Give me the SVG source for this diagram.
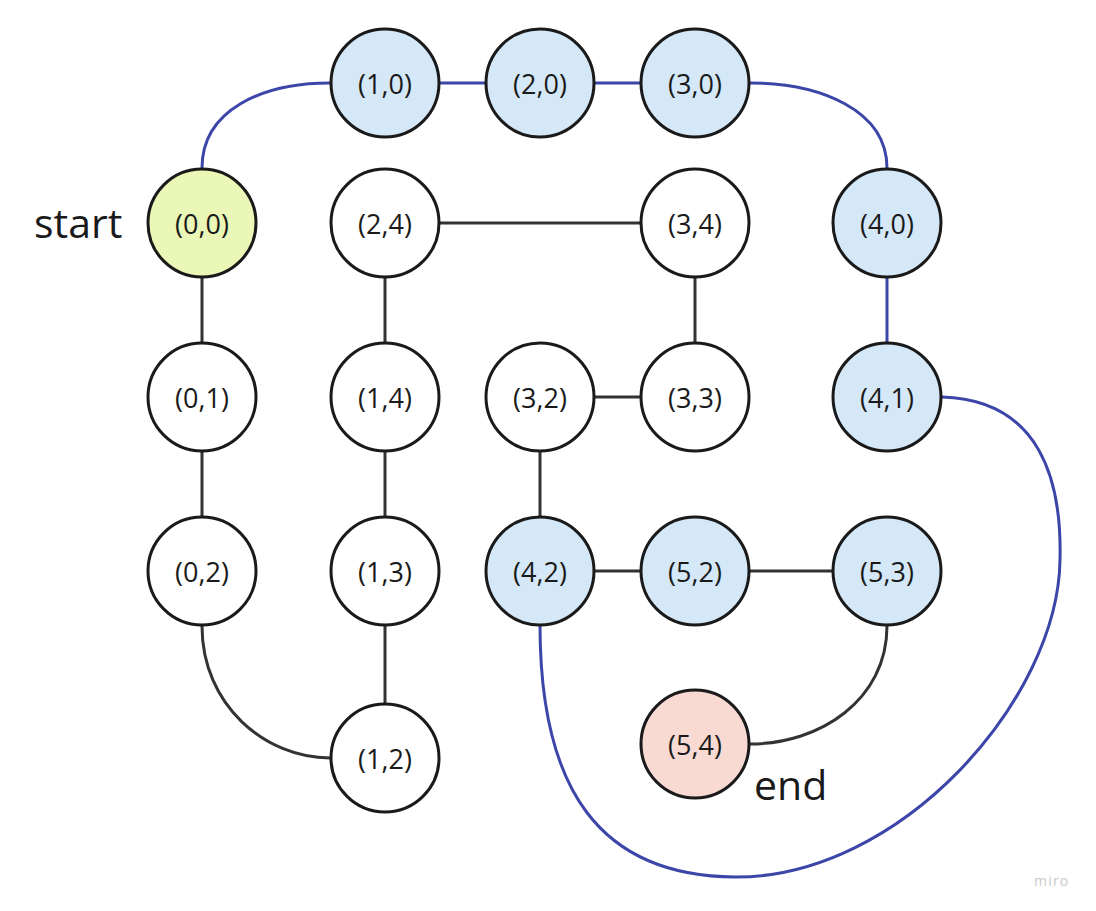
<svg xmlns="http://www.w3.org/2000/svg" width="1096" height="911" viewBox="0 0 1096 911">
  <style>
    .node circle { stroke: #1a1a1a; stroke-width: 3; }
    .plain circle { fill: #ffffff; }
    .path circle { fill: #d5e8f8; }
    .start circle { fill: #eaf7b6; }
    .end circle { fill: #f9dad3; }
    .node text { font-family: "Open Sans", "Liberation Sans", sans-serif; font-size: 27px; fill: #1a1a1a; text-anchor: middle; dominant-baseline: central; }
    .edge { fill: none; stroke: #333333; stroke-width: 3; }
    .route { fill: none; stroke: #3c46a8; stroke-width: 3; }
    .label { font-family: "Open Sans", "Liberation Sans", sans-serif; font-size: 41px; fill: #1a1a1a; }
    .brand { font-family: "Open Sans", "Liberation Sans", sans-serif; font-size: 14px; fill: #c9c9c9; letter-spacing: 1.2px; }
  </style>

  <rect width="1096" height="911" fill="#ffffff"/>

  <g id="connectors">
    <!-- route through the grid -->
    <path class="route" d="M202,168 C202,110 262,83 330,83"/>
    <path class="route" d="M439,83 H486"/>
    <path class="route" d="M595,83 H641"/>
    <path class="route" d="M750,83 C820,83 887,110 887,168"/>
    <path class="route" d="M887,278 V343"/>
    <path class="route" d="M942,397 C1040,400 1062,480 1060,560 C1058,700 900,878 735,877 C600,876 540,790 540,625"/>
    <!-- remaining edges -->
    <path class="edge" d="M202,278 V343"/>
    <path class="edge" d="M202,452 V517"/>
    <path class="edge" d="M202,626 C202,705 265,758 330,758"/>
    <path class="edge" d="M439,223 H641"/>
    <path class="edge" d="M385,278 V343"/>
    <path class="edge" d="M385,452 V517"/>
    <path class="edge" d="M385,626 V703"/>
    <path class="edge" d="M695,278 V343"/>
    <path class="edge" d="M595,397 H641"/>
    <path class="edge" d="M540,452 V516"/>
    <path class="edge" d="M595,571 H641"/>
    <path class="edge" d="M750,571 H832"/>
    <path class="edge" d="M887,626 C887,700 820,744 750,744"/>
  </g>

  <g id="n10" class="node path"><circle cx="385" cy="83" r="54"/><text x="385" y="83">(1,0)</text></g>
  <g id="n20" class="node path"><circle cx="540" cy="83" r="54"/><text x="540" y="83">(2,0)</text></g>
  <g id="n30" class="node path"><circle cx="695" cy="83" r="54"/><text x="695" y="83">(3,0)</text></g>
  <g id="n00" class="node start"><circle cx="202" cy="223" r="54"/><text x="202" y="223">(0,0)</text></g>
  <g id="n24" class="node plain"><circle cx="385" cy="223" r="54"/><text x="385" y="223">(2,4)</text></g>
  <g id="n34" class="node plain"><circle cx="695" cy="223" r="54"/><text x="695" y="223">(3,4)</text></g>
  <g id="n40" class="node path"><circle cx="887" cy="223" r="54"/><text x="887" y="223">(4,0)</text></g>
  <g id="n01" class="node plain"><circle cx="202" cy="397" r="54"/><text x="202" y="397">(0,1)</text></g>
  <g id="n14" class="node plain"><circle cx="385" cy="397" r="54"/><text x="385" y="397">(1,4)</text></g>
  <g id="n32" class="node plain"><circle cx="540" cy="397" r="54"/><text x="540" y="397">(3,2)</text></g>
  <g id="n33" class="node plain"><circle cx="695" cy="397" r="54"/><text x="695" y="397">(3,3)</text></g>
  <g id="n41" class="node path"><circle cx="887" cy="397" r="54"/><text x="887" y="397">(4,1)</text></g>
  <g id="n02" class="node plain"><circle cx="202" cy="571" r="54"/><text x="202" y="571">(0,2)</text></g>
  <g id="n13" class="node plain"><circle cx="385" cy="571" r="54"/><text x="385" y="571">(1,3)</text></g>
  <g id="n42" class="node path"><circle cx="540" cy="571" r="54"/><text x="540" y="571">(4,2)</text></g>
  <g id="n52" class="node path"><circle cx="695" cy="571" r="54"/><text x="695" y="571">(5,2)</text></g>
  <g id="n53" class="node path"><circle cx="887" cy="571" r="54"/><text x="887" y="571">(5,3)</text></g>
  <g id="n54" class="node end"><circle cx="695" cy="744" r="54"/><text x="695" y="744">(5,4)</text></g>
  <g id="n12" class="node plain"><circle cx="385" cy="758" r="54"/><text x="385" y="758">(1,2)</text></g>

  <g id="labels">
    <text class="label" x="34" y="238">start</text>
    <text class="label" x="754" y="800">end</text>
    <text class="brand" x="1034" y="886">miro</text>
  </g>
</svg>
